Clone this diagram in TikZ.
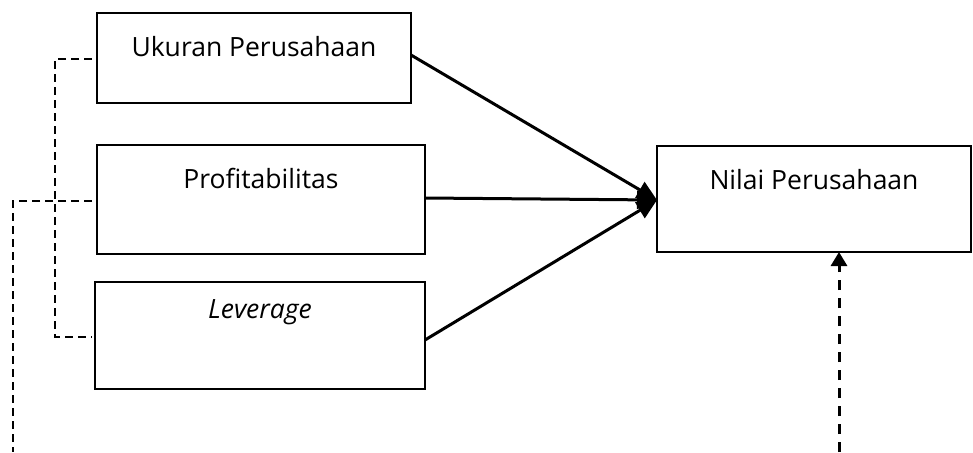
\documentclass[tikz,border=0pt]{standalone}
\usepackage{fontspec}
\setmainfont{Open Sans}
\usetikzlibrary{arrows.meta}
\begin{document}
\begin{tikzpicture}[x=1pt,y=-1pt,
  box/.style={draw,line width=2.8pt},
  lbl/.style={font=\fontsize{26.5}{30}\selectfont,inner sep=0pt},
  conn/.style={line width=3pt,-{Triangle[length=20pt,width=18pt]}},
  dconn/.style={line width=2.6pt,dash pattern=on 8pt off 5pt}]
\useasboundingbox (0,0) rectangle (973,452);
\draw[box] (97,13) rectangle (411,103);
\draw[box] (97,145) rectangle (425,254);
\draw[box] (95,282) rectangle (425,389);
\draw[box] (657,146) rectangle (971,252);
\node[lbl] (tu) at (254,47) {Ukuran Perusahaan};
\node[lbl] (tp) at (261,178) {Profitabilitas};
\node[lbl] (tl) at (260,312) {\itshape Leverage};
\node[lbl] (tn) at (814,180) {Nilai Perusahaan};
\coordinate (ur) at (411,55);
\coordinate (pr) at (425,198);
\coordinate (lr) at (425,340);
\coordinate (nl) at (657,200);
\coordinate (nb) at (839,252);
\coordinate (nbot) at (839,452);
\draw[conn] (ur) -- (nl);
\draw[conn] (pr) -- (nl);
\draw[conn] (lr) -- (nl);
\draw[line width=3pt,-{Triangle[length=14pt,width=16pt]},dash pattern=on 10pt off 8pt] (nbot) -- (nb);
\coordinate (a1) at (92,59);
\coordinate (a2) at (92,337);
\coordinate (b1) at (92,201);
\draw[dconn] (a1) -- (55,59) -- (55,337) -- (a2);
\draw[dconn] (b1) -- (13,201) -- (13,452);
\end{tikzpicture}
\end{document}
